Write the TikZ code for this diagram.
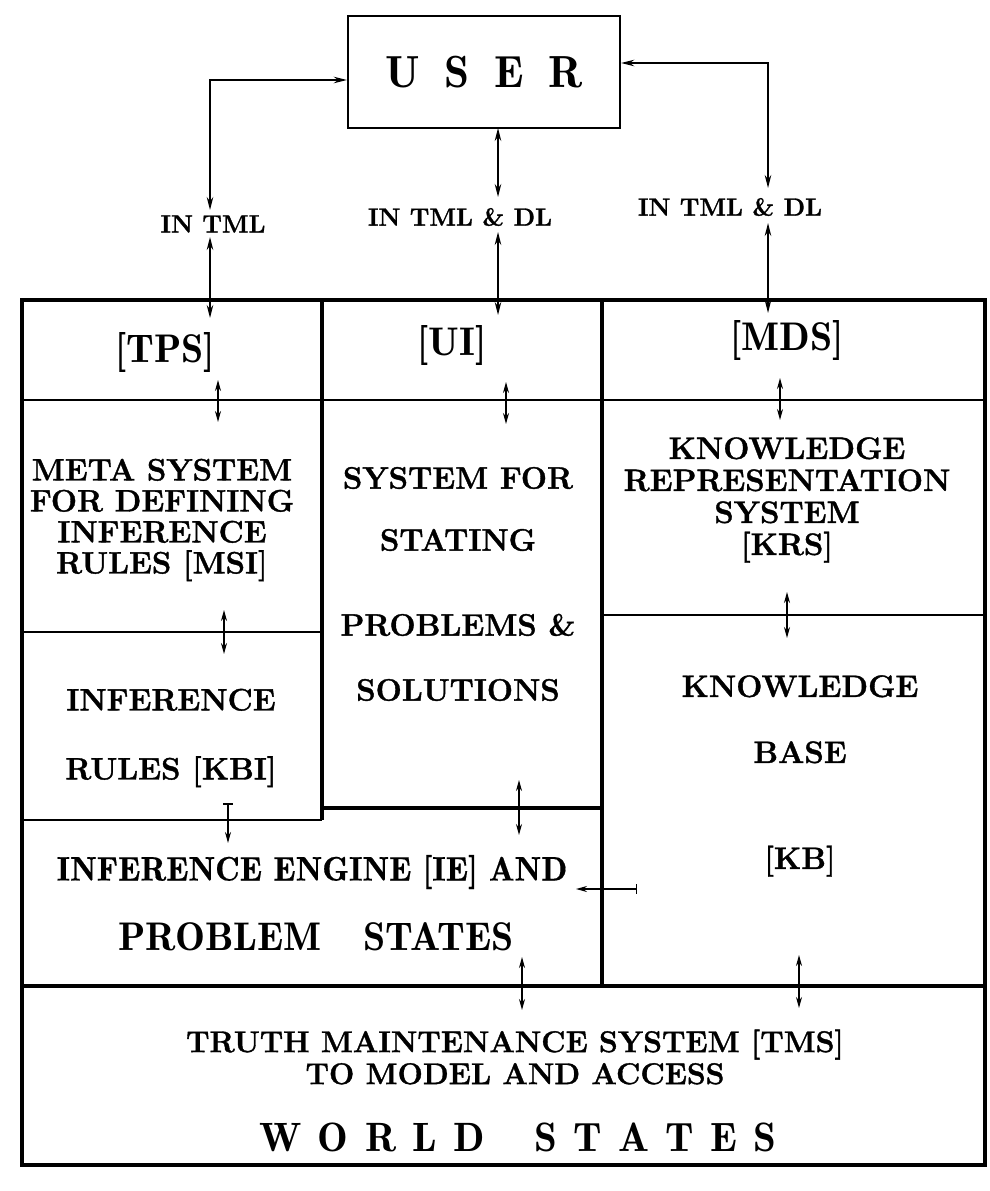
\documentclass[tikz,border=0pt]{standalone}
\usepackage{fontspec}
\usetikzlibrary{arrows.meta}
\newfontface\hvbf{lmroman12-bold.otf}[FakeBold=1.2]
\newfontface\hvdemi{lmromandemi10-regular.otf}[FakeBold=0.4]
\begin{document}
\begin{tikzpicture}[x=1pt,y=-1pt,
  frame/.style={line width=4.5pt},
  div/.style={line width=2pt},
  hdiv/.style={line width=3.5pt},
  conn/.style={line width=1.5pt,{Stealth[length=13pt,width=6.5pt]}-{Stealth[length=13pt,width=6.5pt]}},
  sarr/.style={line width=1.5pt,{Stealth[length=11pt,width=6pt]}-{Stealth[length=11pt,width=6pt]}},
  barr/.style={line width=1.5pt,{Bar[width=10pt]}-{Stealth[length=11pt,width=6pt]}},
  lbl/.style={inner sep=0pt,font=\hvbf\fontsize{25}{27}\selectfont},
  hdr/.style={inner sep=0pt,font=\fontsize{40}{44}\selectfont\fontseries{b}\selectfont},
  body/.style={inner sep=0pt,align=center,font=\hvbf\fontsize{31}{31}\selectfont},
  demi/.style={inner sep=0pt,align=center,font=\hvdemi\fontsize{34}{36}\selectfont},
  ]
\fill[white] (0,0) rectangle (990,1191);
\useasboundingbox (0,0) rectangle (990,1191);

% USER
\node[draw,line width=2.4pt,minimum width=272pt,minimum height=112pt,inner sep=0pt,
      font=\fontsize{45}{50}\selectfont\fontseries{b}\selectfont] (user) at (484,72)
      {U\hspace{0.55em}S\hspace{0.55em}E\hspace{0.55em}R};

% labels
\node[lbl] (lblL) at (213,224) {IN TML};
\node[lbl] (lblM) at (460,217) {IN TML \& DL};
\node[lbl] (lblR) at (730,207) {IN TML \& DL};

% frame and dividers
\draw[frame] (22,300) rectangle (985,1165);
\draw[hdiv] (322,300) -- (322,820);
\draw[hdiv] (602,300) -- (602,986);
\draw[div] (22,400) -- (985,400);
\draw[div] (22,632) -- (322,632);
\draw[div] (602,615) -- (985,615);
\draw[div] (22,820) -- (322,820);
\draw[hdiv] (322,808) -- (602,808);
\draw[frame] (22,986) -- (985,986);

% connector coordinates
\coordinate (cL1) at (210,210);
\coordinate (cL2) at (210,237);
\coordinate (cL3) at (210,318);
\coordinate (cM0) at (498,128);
\coordinate (cM1) at (498,197);
\coordinate (cM2) at (498,232);
\coordinate (cM3) at (498,315);
\coordinate (cR1) at (768,188);
\coordinate (cR2) at (768,223);
\coordinate (cR3) at (768,313);

\draw[conn] ([yshift=-8pt]user.west) -| (cL1);
\draw[conn] (cL2) -- (cL3);
\draw[conn] (cM0) -- (cM1);
\draw[conn] (cM2) -- (cM3);
\draw[conn] ([yshift=9pt]user.east) -| (cR1);
\draw[conn] (cR2) -- (cR3);

% headers
\node[hdr] (tps) at (165,352) {[TPS]};
\node[hdr] (ui)  at (452,345) {[UI]};
\node[hdr] (mds) at (787,340) {[MDS]};

% body texts
\node[body] (msi) at (162,520) {META SYSTEM\\FOR DEFINING\\INFERENCE\\RULES [MSI]};
\node[body] (ssp) at (458,584) {SYSTEM FOR\\[31pt]STATING\\[54pt]PROBLEMS \&\\[34pt]SOLUTIONS};
\node[body] (kbi) at (171,738) {INFERENCE\\[38pt]RULES [KBI]};
\node[body,font=\hvbf\fontsize{31}{32}\selectfont] (krs) at (787,500) {KNOWLEDGE\\REPRESENTATION\\SYSTEM\\{[KRS]}};
\node[body] (kb) at (800,776) {KNOWLEDGE\\[35pt]BASE\\[75pt]{[KB]}};
\node[demi] (ie1) at (312,872) {INFERENCE ENGINE [IE] AND};
\node[inner sep=0pt,font=\fontsize{40}{44}\selectfont\fontseries{b}\selectfont] (ie2) at (316,937) {PROBLEM\hspace{1.05em}STATES};
\node[body,font=\hvbf\fontsize{30}{32}\selectfont] (tms1) at (515,1057) {TRUTH MAINTENANCE SYSTEM [TMS]\\TO MODEL AND ACCESS};
\node[inner sep=0pt,font=\fontsize{41}{46}\selectfont\fontseries{b}\selectfont] (tms2) at (518,1137)
  {W\hspace{0.4em}O\hspace{0.4em}R\hspace{0.4em}L\hspace{0.4em}D\hspace{1.2em}S\hspace{0.4em}T\hspace{0.4em}A\hspace{0.4em}T\hspace{0.4em}E\hspace{0.4em}S};

% small arrows
\coordinate (a1s) at (218,380); \coordinate (a1e) at (218,422);
\coordinate (a2s) at (506,382); \coordinate (a2e) at (506,424);
\coordinate (a3s) at (780,378); \coordinate (a3e) at (780,420);
\coordinate (a4s) at (224,610); \coordinate (a4e) at (224,654);
\coordinate (a5s) at (787,592); \coordinate (a5e) at (787,638);
\coordinate (a6s) at (228,803); \coordinate (a6e) at (228,843);
\coordinate (a7s) at (519,780); \coordinate (a7e) at (519,835);
\coordinate (a8s) at (637,889); \coordinate (a8e) at (576,889);
\coordinate (a9s) at (522,957); \coordinate (a9e) at (522,1010);
\coordinate (a10s) at (799,955); \coordinate (a10e) at (799,1008);
\draw[sarr] (a1s) -- (a1e);
\draw[sarr] (a2s) -- (a2e);
\draw[sarr] (a3s) -- (a3e);
\draw[sarr] (a4s) -- (a4e);
\draw[sarr] (a5s) -- (a5e);
\draw[barr] (a6s) -- (a6e);
\draw[sarr] (a7s) -- (a7e);
\draw[barr] (a8s) -- (a8e);
\draw[sarr] (a9s) -- (a9e);
\draw[sarr] (a10s) -- (a10e);
\end{tikzpicture}
\end{document}
